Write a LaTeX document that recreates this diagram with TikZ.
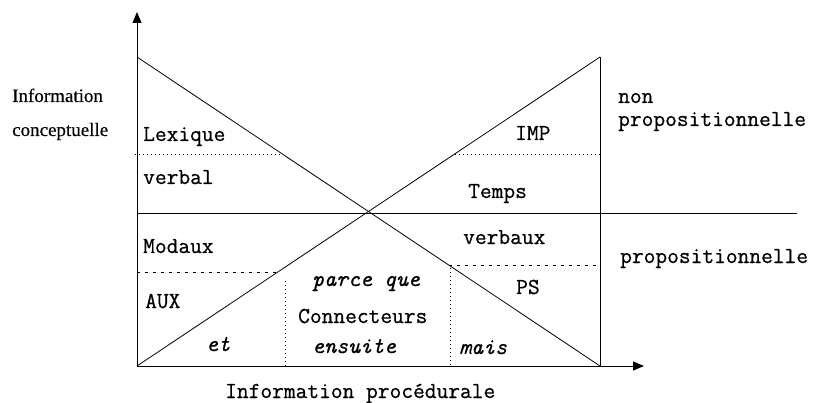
\documentclass[tikz,border=0pt]{standalone}
\usepackage{fontspec}
\setmonofont{Latin Modern Mono}[FakeBold=0.7]
\newfontfamily\labelserif{Liberation Serif}[FakeBold=0.4]
\usetikzlibrary{arrows.meta}
\begin{document}
\begin{tikzpicture}[x=1pt,y=-1pt,
  axis/.style={line width=1pt,-{Triangle[length=11pt,width=9pt]}},
  frame/.style={line width=1pt},
  diag/.style={line width=0.8pt},
  dotline/.style={line width=0.9pt,dash pattern=on 1pt off 3pt},
  dashline/.style={line width=0.9pt,dash pattern=on 3pt off 5pt},
  lbl/.style={inner sep=0pt,anchor=base west,font=\ttfamily\fontsize{22.8}{24}\selectfont},
  ilbl/.style={lbl,font=\ttfamily\itshape\fontsize{22.8}{24}\selectfont},
  slbl/.style={inner sep=0pt,anchor=base west,font=\labelserif\fontsize{19}{22}\selectfont}]
\useasboundingbox (0,0) rectangle (816,403);
% main geometry
\coordinate (O) at (137,366);
\coordinate (Ytip) at (137,12);
\coordinate (Xtip) at (644,366);
\coordinate (TL) at (137,57);
\coordinate (TR) at (600,57);
\coordinate (BR) at (600,366);
\coordinate (Hl) at (137,214);
\coordinate (Hr) at (797,214);
% axes
\draw[axis] (O) -- (Ytip);
\draw[axis] (O) -- (Xtip);
% right boundary and middle line
\draw[frame] (TR) -- (BR);
\draw[frame] (Hl) -- (Hr);
% crossing diagonals
\draw[diag] (TL) -- (BR);
\draw[diag] (O) -- (TR);
% upper dotted separators
\coordinate (d1a) at (135,154);
\coordinate (d1b) at (282,154);
\coordinate (d2a) at (455,154);
\coordinate (d2b) at (600,154);
\draw[dotline] (d1a) -- (d1b);
\draw[dotline] (d2a) -- (d2b);
% lower dashed separators
\coordinate (d3a) at (137,272);
\coordinate (d3b) at (278,272);
\coordinate (d4a) at (449,265);
\coordinate (d4b) at (600,265);
\draw[dashline] (d3a) -- (d3b);
\draw[dashline] (d4a) -- (d4b);
% vertical dotted separators
\coordinate (v1a) at (285,281);
\coordinate (v1b) at (285,366);
\coordinate (v2a) at (450,268);
\coordinate (v2b) at (450,366);
\draw[dotline] (v1a) -- (v1b);
\draw[dotline] (v2a) -- (v2b);
% labels inside
\node[lbl] (lex) at (143,141) {Lexique};
\node[lbl] (verbal) at (143,184) {verbal};
\node[lbl] (modaux) at (143,253) {Modaux};
\node[lbl] (aux) at (145,308) {AUX};
\node[ilbl] (et) at (206,351) {et};
\node[ilbl] (parce) at (312,286) {parce que};
\node[lbl] (conn) at (298,323) {Connecteurs};
\node[ilbl] (ensuite) at (312,353) {ensuite};
\node[ilbl] (mais) at (459,354) {mais};
\node[lbl] (ps) at (516,294) {PS};
\node[lbl] (verbaux) at (463,244) {verbaux};
\node[lbl] (temps) at (468,198) {Temps};
\node[lbl] (imp) at (515,140) {IMP};
% labels outside
\node[lbl] (non) at (618,103) {non};
\node[lbl] (nonprop) at (618,126) {propositionnelle};
\node[lbl] (prop) at (620,263) {propositionnelle};
\node[lbl] (proc) at (225,398) {Information procédurale};
\node[slbl] (info) at (12,102) {Information};
\node[slbl] (concept) at (12,136) {conceptuelle};
\end{tikzpicture}
\end{document}
